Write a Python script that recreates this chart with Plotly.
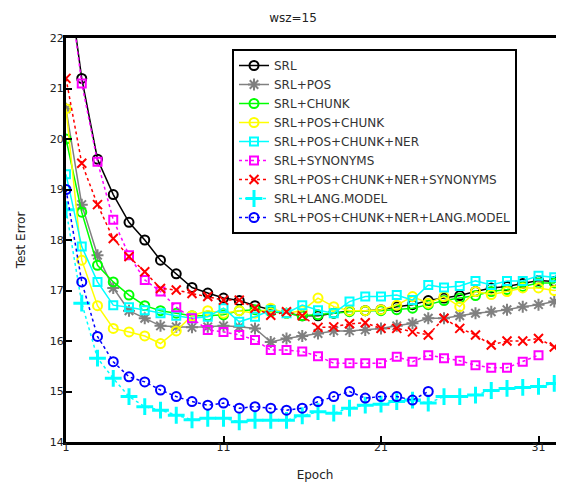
import plotly.graph_objects as go

epochs = list(range(1, 34))

srl = [23.5, 21.2, 19.6, 18.9, 18.35, 18.0, 17.6, 17.33, 17.06, 16.95, 16.85, 16.8, 16.7, 16.62,
       16.55, 16.5, 16.5, 16.55, 16.6, 16.6, 16.62, 16.68, 16.72, 16.8, 16.85, 16.9, 16.98, 17.05,
       17.08, 17.14, 17.2, 17.18, 17.5]
srl_pos = [20.6, 18.7, 17.7, 17.05, 16.6, 16.45, 16.3, 16.28, 16.27, 16.28, 16.3, 16.28, 16.25,
           15.98, 16.05, 16.1, 16.15, 16.2, 16.2, 16.22, 16.25, 16.3, 16.35, 16.45, 16.45, 16.5,
           16.55, 16.58, 16.62, 16.68, 16.72, 16.78, 16.82]
srl_chunk = [20.0, 18.55, 17.5, 17.17, 16.91, 16.7, 16.6, 16.55, 16.5, 16.5, 16.52, 16.6, 16.62,
             16.58, 16.55, 16.5, 16.52, 16.55, 16.58, 16.6, 16.6, 16.62, 16.65, 16.72, 16.8, 16.85,
             16.9, 16.98, 17.02, 17.08, 17.15, 17.15, 17.4]
srl_pos_chunk = [20.6, 17.6, 16.7, 16.25, 16.18, 16.1, 15.95, 16.2, 16.5, 16.6, 16.55, 16.6, 16.55,
                 16.65, 16.55, 16.6, 16.85, 16.68, 16.6, 16.6, 16.62, 16.71, 16.88, 16.75, 16.88,
                 16.68, 16.98, 16.92, 16.98, 17.05, 17.05, 17.0, 17.05]
srl_pos_chunk_ner = [19.3, 17.87, 17.17, 16.71, 16.67, 16.61, 16.55, 16.5, 16.45, 16.48, 16.65, 16.38,
                     16.48, 16.61, 16.55, 16.71, 16.61, 16.55, 16.78, 16.88, 16.88, 16.91, 16.81,
                     17.11, 17.06, 17.09, 17.19, 17.11, 17.19, 17.19, 17.29, 17.26, 17.6]
srl_syn = [23.5, 21.1, 19.55, 18.4, 17.7, 17.21, 16.98, 16.67, 16.45, 16.22, 16.18, 16.12, 16.02,
           15.82, 15.82, 15.79, 15.7, 15.56, 15.56, 15.56, 15.56, 15.69, 15.59, 15.72, 15.66, 15.61,
           15.52, 15.47, 15.47, 15.59, 15.72]
srl_all_syn = [21.2, 19.52, 18.7, 18.03, 17.67, 17.37, 17.04, 17.01, 16.94, 16.88, 16.81, 16.81,
               16.65, 16.51, 16.58, 16.5, 16.27, 16.28, 16.34, 16.36, 16.25, 16.25, 16.18, 16.12,
               16.45, 16.25, 16.12, 15.92, 16.0, 16.0, 16.05, 15.88, 15.8]
srl_lm = [18.6, 16.75, 15.66, 15.26, 14.9, 14.7, 14.63, 14.53, 14.44, 14.47, 14.47, 14.4, 14.43,
          14.43, 14.43, 14.52, 14.6, 14.57, 14.67, 14.73, 14.75, 14.8, 14.83, 14.77, 14.9, 14.9,
          14.93, 15.02, 15.06, 15.08, 15.1, 15.16, 15.18]
srl_all_lm = [19.0, 17.17, 16.09, 15.59, 15.29, 15.19, 15.03, 14.9, 14.8, 14.73, 14.77, 14.67, 14.7,
              14.67, 14.63, 14.67, 14.8, 14.9, 15.0, 14.87, 14.9, 14.9, 14.83, 15.0]

names = ["SRL", "SRL+POS", "SRL+CHUNK", "SRL+POS+CHUNK", "SRL+POS+CHUNK+NER", "SRL+SYNONYMS",
         "SRL+POS+CHUNK+NER+SYNONYMS", "SRL+LANG.MODEL", "SRL+POS+CHUNK+NER+LANG.MODEL"]
series = [srl, srl_pos, srl_chunk, srl_pos_chunk, srl_pos_chunk_ner, srl_syn, srl_all_syn,
          srl_lm, srl_all_lm]
colors = ["#000000", "#808080", "#00ff00", "#ffff00", "#00ffff", "#ff00ff", "#ff0000",
          "#00ffff", "#0000ff"]
symbols = ["circle-open", "asterisk-open", "circle-open", "circle-open", "square-open",
           "square-open", "x-thin-open", "cross-thin-open", "circle-open"]
dashes = ["solid", "solid", "solid", "solid", "solid", "dot", "dot", "dot", "dot"]
sizes = [9, 10, 9, 9, 8, 8, 9, 12, 9]
widths = [2, 2, 2, 2, 2, 2, 2, 3, 2]

FONT = "DejaVu Sans, Verdana, sans-serif"

fig = go.Figure()
for name, ys, c, s, d, sz, mw in zip(names, series, colors, symbols, dashes, sizes, widths):
    fig.add_trace(go.Scatter(
        x=epochs[:len(ys)], y=ys, name=name, mode="lines+markers",
        line=dict(color=c, width=1.5, dash=d),
        marker=dict(symbol=s, size=sz, color=c, line=dict(color=c, width=mw)),
    ))

# page body adds an 8px offset; figure is sized to end at the window edges
W, H = 556, 477
fig.update_layout(
    width=W, height=H,
    margin=dict(l=58, r=0, t=30, b=43),
    paper_bgcolor="white", plot_bgcolor="white",
    font=dict(family=FONT, size=11, color="#222"),
    title=dict(text="wsz=15", x=285 / W, xanchor="center", y=1 - 10 / H, yanchor="middle",
               font=dict(size=12, color="#222")),
    showlegend=True,
    legend=dict(x=(232 - 66) / 498, xanchor="left", y=(442 - 49) / 404, yanchor="top",
                bgcolor="white", bordercolor="black", borderwidth=2,
                font=dict(size=12, color="#333"), itemwidth=30, tracegroupgap=0),
)
fig.update_xaxes(
    range=[1, 1 + (564 - 66) / 15.75], tickvals=[1, 11, 21, 31],
    ticks="inside", ticklen=6, tickwidth=2, tickcolor="black", ticklabelstandoff=-7,
    showline=True, linecolor="black", linewidth=3, mirror=True,
    showgrid=False, zeroline=False,
    title=dict(text="Epoch", font=dict(size=12, color="#222"), standoff=18),
)
fig.update_yaxes(
    range=[14, 22], tickvals=list(range(14, 23)),
    ticks="inside", ticklen=6, tickwidth=2, tickcolor="black", ticklabelstandoff=-3,
    showline=True, linecolor="black", linewidth=3, mirror=False,
    showgrid=False, zeroline=False,
    title=dict(text="Test Error", font=dict(size=12, color="#222"), standoff=22),
)

fig.write_html("out.html")
